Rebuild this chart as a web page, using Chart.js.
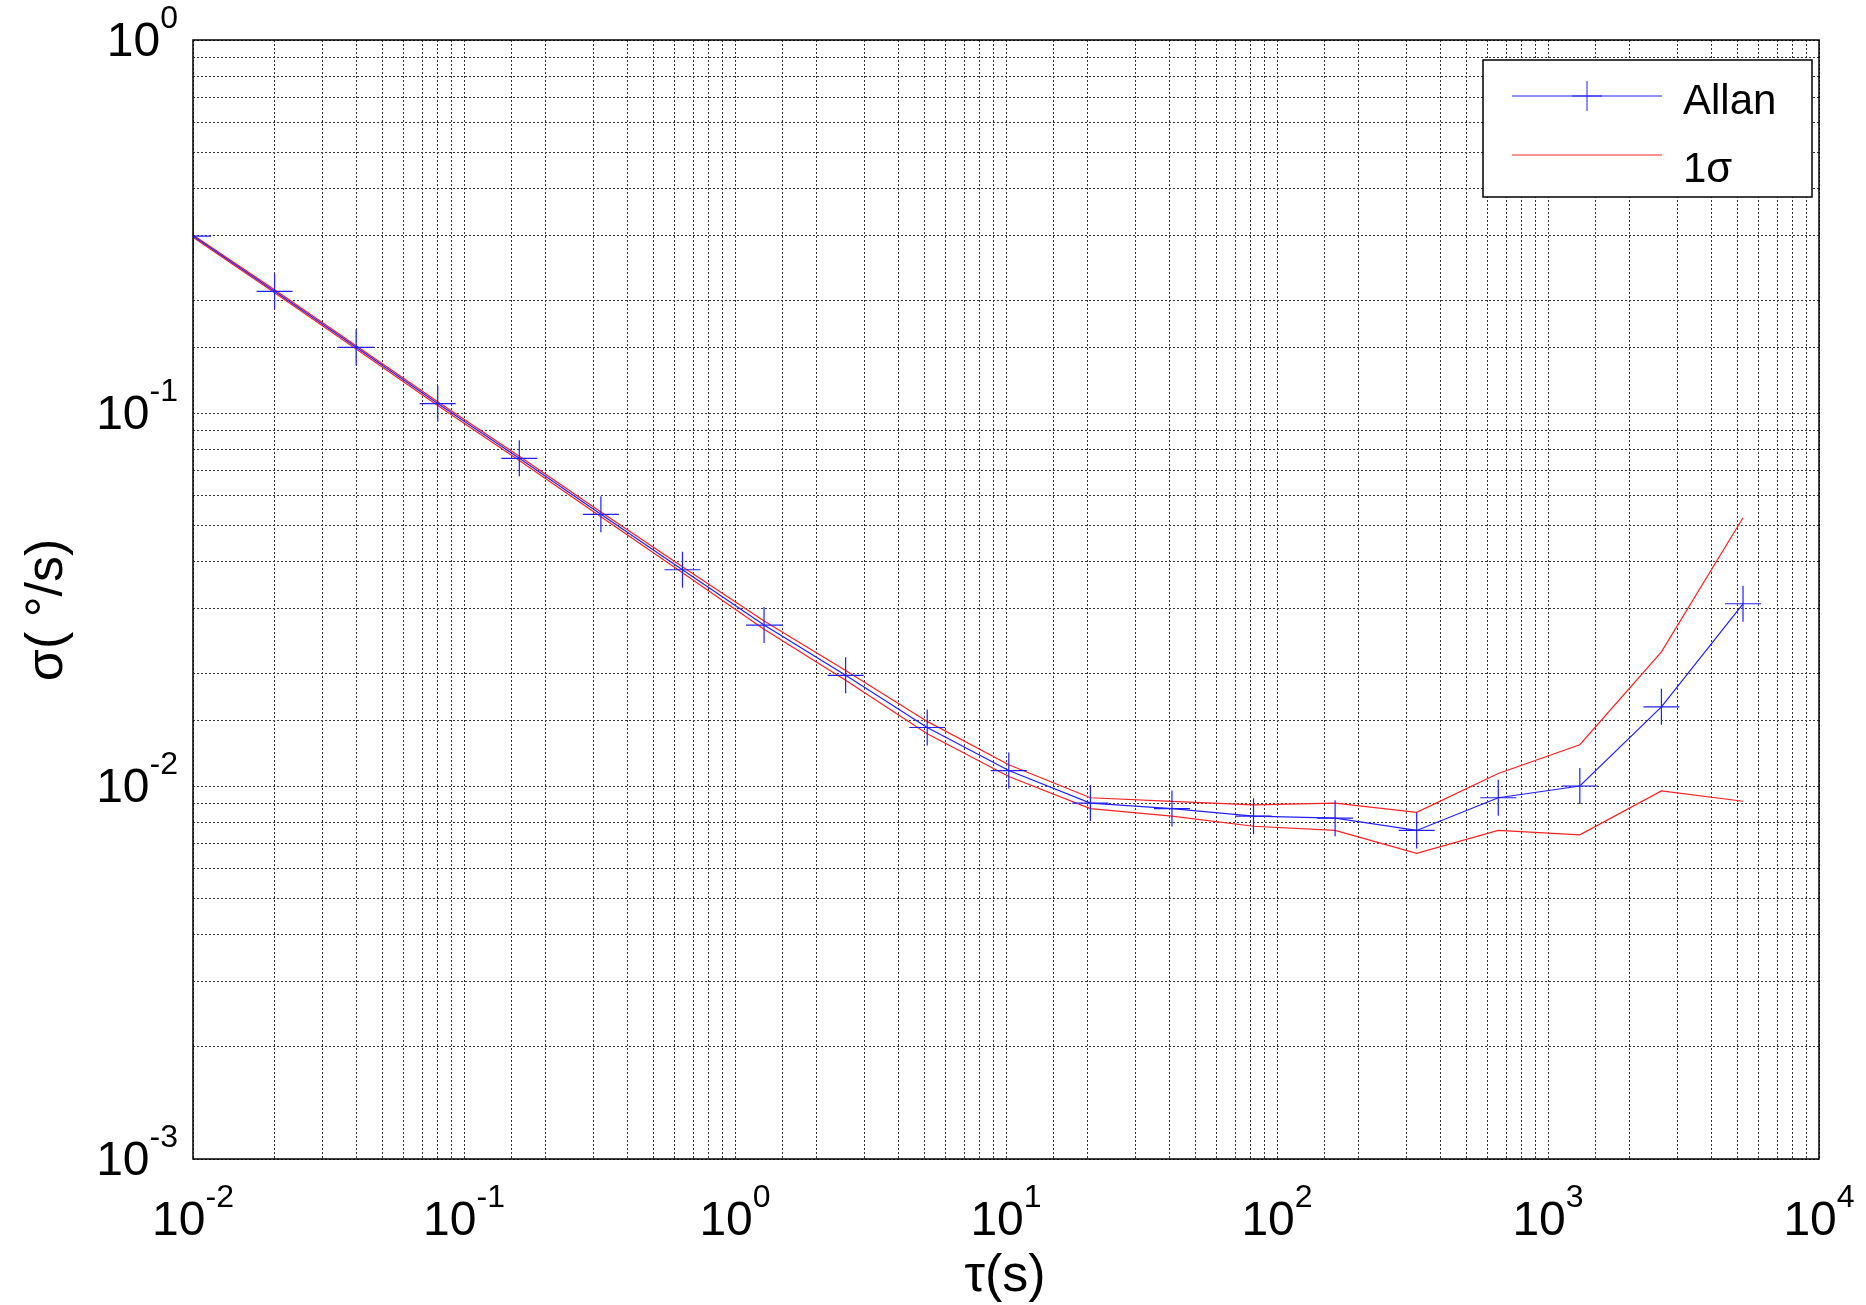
<!DOCTYPE html>
<html><head><meta charset="utf-8">
<script src="https://cdn.jsdelivr.net/npm/chart.js@4"></script>
<style>html,body{margin:0;padding:0;background:#fff}</style>
</head><body><canvas id="c" width="1866" height="1305"></canvas>
<script>
const tau = [0.01,0.02,0.04,0.08,0.16,0.32,0.64,1.28,2.56,5.12,10.24,20.48,40.96,81.92,163.84,327.68,655.36,1310.72,2621.44,5242.88];
const allan = [0.298,0.212,0.150,0.106,0.0756,0.0535,0.038,0.027,0.0198,0.01435,0.0110,0.0090,0.0087,0.0083,0.0082,0.0076,0.0093,0.0100,0.0163,0.0308];
const upper = [0.300,0.214,0.1515,0.1072,0.0766,0.0543,0.0387,0.0277,0.0204,0.0149,0.0114,0.0093,0.0091,0.0089,0.0090,0.0085,0.0108,0.0129,0.0229,0.0524];
const lower = [0.296,0.210,0.1485,0.1048,0.0746,0.0527,0.0373,0.0263,0.0192,0.0138,0.0106,0.0087,0.0083,0.0078,0.0076,0.0066,0.0076,0.0074,0.0097,0.0091];
const xTicks = [-2,-1,0,1,2,3,4];
const yTicks = [0,-1,-2,-3];
const legendLabels = ['Allan','1\u03c3'];
const xTitle = '\u03c4(s)', yTitle = '\u03c3( \u00b0/s)';
const F = 'Liberation Sans, Arial, sans-serif';
function pow10(ctx,x,y,e,align){
  ctx.save();ctx.fillStyle='#000';ctx.textBaseline='alphabetic';ctx.textAlign='left';
  ctx.font='48px '+F; const w1=ctx.measureText('10').width;
  ctx.font='32px '+F; const w2=ctx.measureText(String(e)).width;
  let x0 = align==='right'? x-w1-w2 : x-(w1+w2)/2;
  ctx.font='48px '+F; ctx.fillText('10',x0,y);
  ctx.font='32px '+F; ctx.fillText(String(e),x0+w1,y-28);
  ctx.restore();
}
const deco = {id:'deco',afterDraw(ch){
  const ctx=ch.ctx,xs=ch.scales.x,ys=ch.scales.y,a=ch.chartArea;
  ctx.save();ctx.strokeStyle='#000';ctx.lineWidth=1.5;ctx.strokeRect(a.left,a.top,a.right-a.left,a.bottom-a.top);ctx.restore();
  xTicks.forEach(e=>pow10(ctx,xs.getPixelForValue(Math.pow(10,e)),1235,e,'center'));
  yTicks.forEach(e=>pow10(ctx,178,ys.getPixelForValue(Math.pow(10,e))+16,e,'right'));
  ctx.save();ctx.fillStyle='#000';ctx.font='52px '+F;ctx.textAlign='center';ctx.textBaseline='middle';
  ctx.fillText(xTitle,1005,1277);
  ctx.translate(48,610);ctx.rotate(-Math.PI/2);ctx.fillText(yTitle,0,0);ctx.restore();
  ctx.save();ctx.fillStyle='#fff';ctx.strokeStyle='#000';ctx.lineWidth=1.5;
  ctx.fillRect(1483,60,329,137);ctx.strokeRect(1483,60,329,137);
  ctx.lineWidth=1;ctx.strokeStyle='#2020ff';ctx.beginPath();ctx.moveTo(1512,96);ctx.lineTo(1662,96);ctx.stroke();
  ctx.beginPath();ctx.moveTo(1572,96);ctx.lineTo(1602,96);ctx.moveTo(1587,81);ctx.lineTo(1587,111);ctx.stroke();
  ctx.strokeStyle='#ff2020';ctx.beginPath();ctx.moveTo(1512,155);ctx.lineTo(1662,155);ctx.stroke();
  ctx.fillStyle='#000';ctx.font='42px '+F;ctx.textBaseline='middle';ctx.textAlign='left';
  ctx.fillText(legendLabels[0],1683,102);ctx.fillText(legendLabels[1],1683,170);
  ctx.restore();
}};
const grid={display:true,color:'#333',lineWidth:1,drawTicks:false};
const border={display:false,dash:[2,2]};
new Chart(document.getElementById('c'),{type:'line',
 data:{datasets:[
  {label:'Allan',data:tau.map((t,i)=>({x:t,y:allan[i]})),borderColor:'#2020ff',borderWidth:1.2,pointStyle:'cross',pointRadius:18,pointBorderColor:'#2020ff',pointBorderWidth:1.2,tension:0},
  {label:'up',data:tau.map((t,i)=>({x:t,y:upper[i]})),borderColor:'#ff2020',borderWidth:1.2,pointRadius:0,tension:0},
  {label:'lo',data:tau.map((t,i)=>({x:t,y:lower[i]})),borderColor:'#ff2020',borderWidth:1.2,pointRadius:0,tension:0}]},
 options:{responsive:false,animation:false,devicePixelRatio:1,
  layout:{padding:{left:193,top:40,right:47,bottom:146}},
  plugins:{legend:{display:false},tooltip:{enabled:false}},
  scales:{
   x:{type:'logarithmic',min:0.01,max:10000,grid:grid,border:border,ticks:{display:false}},
   y:{type:'logarithmic',min:0.001,max:1,grid:grid,border:border,ticks:{display:false}}}},
 plugins:[deco]});
</script></body></html>
